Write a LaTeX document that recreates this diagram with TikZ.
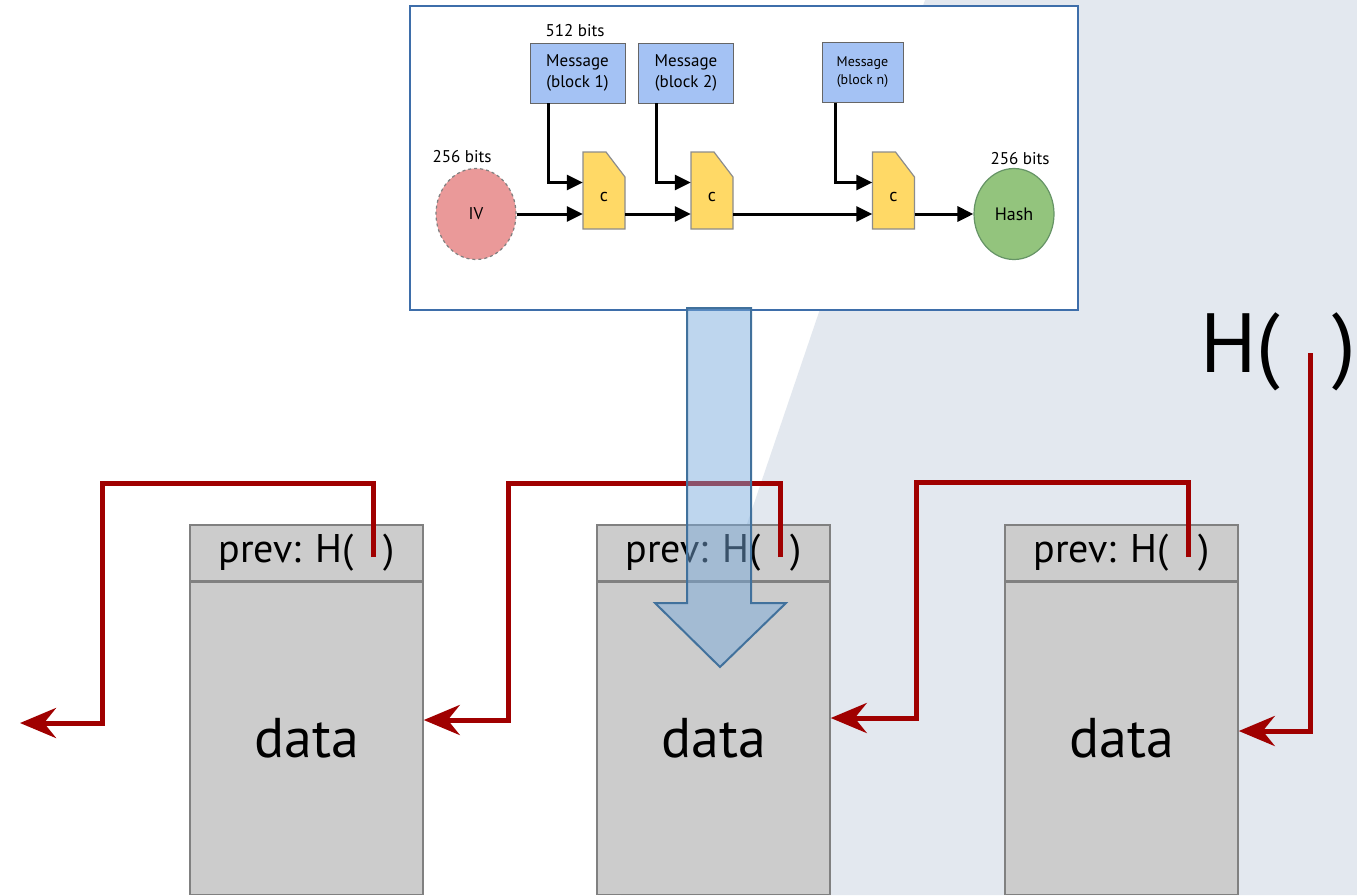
\documentclass[tikz,border=0pt]{standalone}
\usepackage{fontspec}
\setmainfont{PT Sans}
\usetikzlibrary{arrows.meta,positioning,calc,shapes.geometric}
\definecolor{slidegray}{RGB}{227,232,239}
\definecolor{frameblue}{RGB}{62,110,170}
\definecolor{msgblue}{RGB}{164,194,244}
\definecolor{compyellow}{RGB}{255,217,102}
\definecolor{ivred}{RGB}{234,153,153}
\definecolor{hashgreen}{RGB}{147,196,125}
\definecolor{chainred}{RGB}{160,0,0}
\definecolor{blockgray}{RGB}{204,204,204}
\definecolor{arrowblue}{RGB}{120,170,220}
\definecolor{arrowedge}{RGB}{65,113,156}

\begin{document}
\begin{tikzpicture}[x=1pt, y=-1pt,
  msgbox/.style={draw=black!60, fill=msgblue, minimum width=95pt, minimum height=60pt, inner sep=1pt, align=center, font=\fontsize{17}{21}\selectfont},
  bits/.style={font=\fontsize{17}{20}\selectfont},
  flow/.style={line width=3pt, -{Triangle[length=16pt,width=15pt]}},
  hdrbox/.style={draw=black!50, line width=1.5pt, fill=blockgray, minimum width=233pt, minimum height=56pt, inner sep=0pt, font=\fontsize{40}{44}\selectfont},
  databox/.style={draw=black!50, line width=1.5pt, fill=blockgray, minimum width=233pt, minimum height=312pt, inner sep=0pt, font=\fontsize{56}{60}\selectfont},
  chain/.style={draw=chainred, line width=5pt, -{Stealth[length=36pt,width=30pt,inset=12pt]}}]
  \useasboundingbox (0,0) rectangle (1357,895);
  \fill[white] (0,0) rectangle (1357,895);
  \fill[slidegray] (925,0) -- (1357,0) -- (1357,895) -- (621,895) -- cycle;

  % compression function
  \draw[frameblue, line width=1.8pt, fill=white] (410,6) rectangle (1078,310);
  \node[msgbox] (m1) at (577.5,73) {Message\\(block 1)};
  \node[msgbox] (m2) at (686,73) {Message\\(block 2)};
  \node[msgbox, minimum width=81pt, font=\fontsize{14}{18}\selectfont] (mn) at (862.5,72.5) {Message\\(block n)};
  \node[bits] (b512) at (575,31) {512 bits};
  \foreach \cx/\cname in {604/c1, 712/c2, 893.5/c3} {
    \filldraw[fill=compyellow, draw=black!45, line width=1.2pt] (\cx-21,229) -- (\cx-21,152) -- (\cx+2,152) -- (\cx+21,177) -- (\cx+21,229) -- cycle;
    \node[minimum width=42pt, minimum height=77pt, inner sep=0pt, font=\fontsize{18}{20}\selectfont] (\cname) at (\cx,196.5) {c};
  }
  \node[ellipse, draw=black!50, dashed, line width=1.2pt, fill=ivred, minimum width=80pt, minimum height=91pt, font=\fontsize{17}{19}\selectfont] (iv) at (476,214) {IV};
  \node[ellipse, draw=green!30!black!60, line width=1.2pt, fill=hashgreen, minimum width=80pt, minimum height=91pt, font=\fontsize{18}{20}\selectfont] (hash) at (1014,214) {Hash};
  \node[bits] (bitsiv) at (462,157) {256 bits};
  \node[bits] (bitshash) at (1020,159) {256 bits};
  \draw[flow] (iv) -- (c1.west |- iv);
  \draw[flow] (c1.east |- iv) -- (c2.west |- iv);
  \draw[flow] (c2.east |- iv) -- (c3.west |- iv);
  \draw[flow] (c3.east |- iv) -- (hash);
  \draw[flow] ([xshift=19pt]m1.south west) |- ([yshift=14pt]c1.west);
  \draw[flow] ([xshift=18pt]m2.south west) |- ([yshift=14pt]c2.west);
  \draw[flow] ([xshift=14pt]mn.south west) |- ([yshift=14pt]c3.west);

  % blocks
  \foreach \bx/\i in {306.5/1, 713.5/2, 1121.5/3} {
    \node[hdrbox] (hdr\i) at (\bx,553) {prev: H(\hspace{30pt})};
    \node[databox, below=0pt of hdr\i] (blk\i) {data};
    \coordinate (p\i) at ($(hdr\i.center)+(67,4)$);
  }
  \node[anchor=base, font=\fontsize{84}{90}\selectfont] (hout) at (1278,372) {H(\hspace{52pt})};
  \coordinate (ptop) at (1310,353);
  \coordinate (out) at (20,723);

  % hash pointers
  \draw[chain] (p1) -- ++(0,-74) -| (102,723) -- (out);
  \draw[chain] (p2) -- ++(0,-74) -| (508,720) -- (blk1.east |- 0,720);
  \draw[chain] (p3) -- ++(0,-75) -| (916,718) -- (blk2.east |- 0,718);
  \draw[chain] (ptop) |- (blk3.east |- 0,731);

  % big arrow
  \filldraw[draw=arrowedge, line width=2pt, fill=arrowblue, fill opacity=0.48] (687,308) -- (751,308) -- (751,603) -- (786,603) -- (720,667) -- (655,603) -- (687,603) -- cycle;
\end{tikzpicture}
\end{document}
